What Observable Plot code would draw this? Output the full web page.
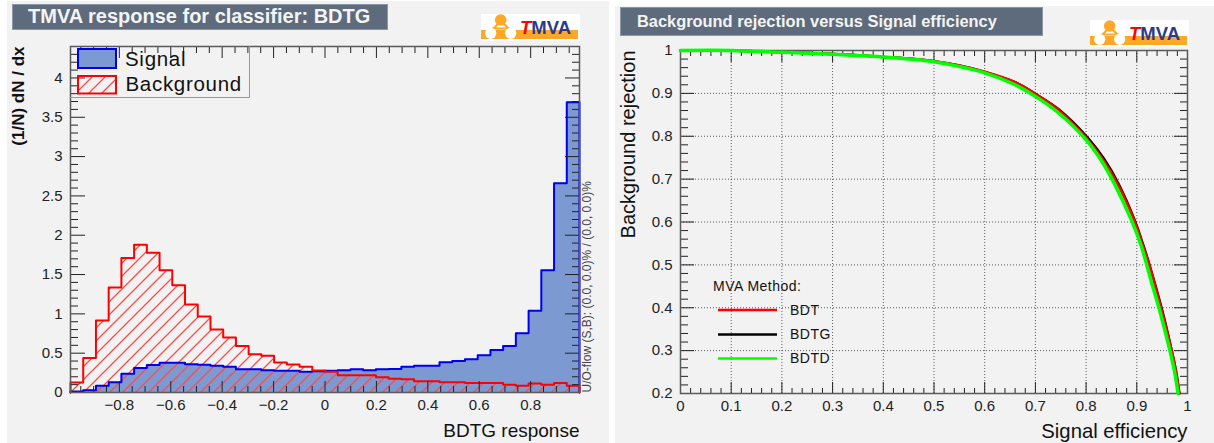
<!DOCTYPE html>
<html><head><meta charset="utf-8">
<script src="https://cdn.jsdelivr.net/npm/d3@7"></script>
<script src="https://cdn.jsdelivr.net/npm/@observablehq/plot@0.6"></script>
<style>
html,body{margin:0;padding:0;background:#fff;width:1214px;height:443px;overflow:hidden;font-family:"Liberation Sans",Arial,sans-serif}
.panel{position:absolute;background:#f2f2f2}
.panel svg{position:absolute;left:0;top:0;overflow:visible;background:transparent}
.title{position:absolute;background:#5d6b7d;color:#f4f4f4;font-weight:bold;box-sizing:border-box;border:1px solid #8b97a5;white-space:nowrap}
.logo{position:absolute}
.over{position:absolute;left:0;top:0;pointer-events:none}
</style></head><body>
<div id="root"></div>
<script>
// ---------- left chart: classifier response ----------
const signalDensity = [0.012,0.03,0.085,0.13,0.237,0.31,0.35,0.377,0.377,0.36,0.352,0.34,0.327,0.297,0.297,0.284,0.276,0.276,0.263,0.27,0.276,0.284,0.297,0.284,0.297,0.30,0.327,0.34,0.34,0.386,0.40,0.424,0.475,0.54,0.59,0.755,1.04,1.556,2.66,3.69];
const backgroundDensity = [0.127,0.44,0.916,1.336,1.71,1.88,1.777,1.556,1.365,1.12,0.967,0.80,0.70,0.59,0.488,0.466,0.38,0.356,0.327,0.28,0.263,0.22,0.22,0.22,0.195,0.174,0.17,0.144,0.144,0.13,0.13,0.12,0.12,0.12,0.098,0.085,0.115,0.098,0.12,0.085];
const responseDomain = [-0.99,0.99];
const densityDomain = [0,4.4];
const responseMajor = [-0.8,-0.6,-0.4,-0.2,0,0.2,0.4,0.6,0.8];
const responseMinor = [-0.95,-0.9,-0.85,-0.75,-0.7,-0.65,-0.55,-0.5,-0.45,-0.35,-0.3,-0.25,-0.15,-0.1,-0.05,0.05,0.1,0.15,0.25,0.3,0.35,0.45,0.5,0.55,0.65,0.7,0.75,0.85,0.9,0.95];
const densityMajor = [0,0.5,1,1.5,2,2.5,3,3.5,4];
const densityMinor = [0.1,0.2,0.3,0.4,0.6,0.7,0.8,0.9,1.1,1.2,1.3,1.4,1.6,1.7,1.8,1.9,2.1,2.2,2.3,2.4,2.6,2.7,2.8,2.9,3.1,3.2,3.3,3.4,3.6,3.7,3.8,3.9,4.1,4.2,4.3];

// ---------- right chart: ROC curves ----------
const effBDT  = [0,0.1,0.2,0.3,0.4,0.5,0.55,0.6,0.66,0.7,0.745,0.8,0.832,0.862,0.895,0.912,0.9246,0.95,0.968,0.977,0.984];
const rejBDT  = [1,1,0.996,0.992,0.985,0.975,0.965,0.9505,0.926,0.899,0.862,0.797,0.748,0.689,0.6035,0.5452,0.50,0.3897,0.3042,0.2537,0.2];
const effBDTG = [0,0.1,0.2,0.3,0.4,0.5,0.55,0.6,0.66,0.7,0.747,0.803,0.835,0.864,0.896,0.913,0.925,0.951,0.968,0.977,0.984];
const rejBDTG = [1,1,0.996,0.992,0.985,0.975,0.965,0.95,0.926,0.899,0.862,0.797,0.748,0.689,0.6035,0.5452,0.50,0.3897,0.3042,0.2537,0.2];
const effBDTD = [0,0.1,0.2,0.3,0.4,0.4615,0.5,0.547,0.6,0.659,0.7,0.744,0.8,0.83,0.856,0.889,0.9085,0.928,0.946,0.9645,0.974,0.9815];
const rejBDTD = [1,1,0.996,0.9915,0.985,0.979,0.9737,0.9635,0.948,0.9207,0.893,0.856,0.7917,0.7434,0.689,0.6055,0.5452,0.4636,0.3897,0.3042,0.2537,0.2];
const effDomain = [0,1];
const rejDomain = [0.2,1];
const effMajor = [0,0.1,0.2,0.3,0.4,0.5,0.6,0.7,0.8,0.9,1];
const rejMajor = [0.2,0.3,0.4,0.5,0.6,0.7,0.8,0.9,1];
const effMinor = [0.02,0.04,0.06,0.08,0.12,0.14,0.16,0.18,0.22,0.24,0.26,0.28,0.32,0.34,0.36,0.38,0.42,0.44,0.46,0.48,0.52,0.54,0.56,0.58,0.62,0.64,0.66,0.68,0.72,0.74,0.76,0.78,0.82,0.84,0.86,0.88,0.92,0.94,0.96,0.98];
const rejMinor = [0.22,0.24,0.26,0.28,0.32,0.34,0.36,0.38,0.42,0.44,0.46,0.48,0.52,0.54,0.56,0.58,0.62,0.64,0.66,0.68,0.72,0.74,0.76,0.78,0.82,0.84,0.86,0.88,0.92,0.94,0.96,0.98];

const FONT = '"Liberation Sans",Arial,sans-serif';
const C = {blue:"#0000f0",fill:"#7d99d1",red:"#ff0000",frame:"#5a5a5a",tick:"#222"};
const HATCH = `<path d="M-2,2L2,-2M0,13L13,0M11,15L15,11" stroke="#ff4a4a" stroke-width="1.3" fill="none"/>`;

// one histogram row per bin edge, closed at both ends so the outline returns to zero
const binWidth = (responseDomain[1]-responseDomain[0])/signalDensity.length;
function histRows(vals){
  const rows=[{x:responseDomain[0],y:0}];
  vals.forEach((v,i)=>rows.push({x:responseDomain[0]+i*binWidth,y:v}));
  rows.push({x:responseDomain[1],y:0});
  return rows;
}

function insideTicks(cfg){
  const {xMajor,xMinor,yMajor,yMinor,xLen,xMinLen,yLen,yMinLen}=cfg;
  const s={stroke:C.tick,strokeWidth:1,text:null,label:null};
  return [
    Plot.axisX(xMajor,{...s,anchor:"bottom",tickSize:-xLen}),
    Plot.axisX(xMinor,{...s,anchor:"bottom",tickSize:-xMinLen}),
    Plot.axisX(xMajor,{...s,anchor:"top",tickSize:-xLen}),
    Plot.axisX(xMinor,{...s,anchor:"top",tickSize:-xMinLen}),
    Plot.axisY(yMajor,{...s,anchor:"left",tickSize:-yLen}),
    Plot.axisY(yMinor,{...s,anchor:"left",tickSize:-yMinLen}),
    Plot.axisY(yMajor,{...s,anchor:"right",tickSize:-yLen}),
    Plot.axisY(yMinor,{...s,anchor:"right",tickSize:-yMinLen})
  ];
}

const sigRows=histRows(signalDensity), bkgRows=histRows(backgroundDensity);

const left = Plot.plot({
  width:602,height:442,marginLeft:63,marginRight:30,marginTop:45,marginBottom:51,
  style:{fontFamily:FONT,background:"transparent",overflow:"visible"},
  x:{domain:responseDomain},y:{domain:densityDomain},
  marks:[
    Plot.areaY(sigRows,{x:"x",y1:0,y2:"y",curve:"step-after",fill:C.fill}),
    Plot.areaY(bkgRows,{x:"x",y1:0,y2:"y",curve:"step-after",fill:"url(#hatchL)"}),
    Plot.line(sigRows,{x:"x",y:"y",curve:"step-after",stroke:C.blue,strokeWidth:2}),
    Plot.line(bkgRows,{x:"x",y:"y",curve:"step-after",stroke:C.red,strokeWidth:2}),
    ...insideTicks({xMajor:responseMajor,xMinor:responseMinor,yMajor:densityMajor,yMinor:densityMinor,xLen:11,xMinLen:6,yLen:15,yMinLen:8}),
    Plot.axisX(responseMajor,{anchor:"bottom",tickSize:0,tickPadding:7,fontSize:15,fill:C.tick,label:null,tickFormat:d3.format("~g")}),
    Plot.axisY(densityMajor,{anchor:"left",tickSize:0,tickPadding:8,fontSize:15,fill:C.tick,label:null,tickFormat:d3.format("~g")}),
    Plot.frame({stroke:C.frame,strokeWidth:1.5}),
    Plot.text(["BDTG response"],{frameAnchor:"bottom-right",textAnchor:"end",dy:44,fontSize:19,fill:"#111"}),
    Plot.text(["(1/N) dN / dx"],{frameAnchor:"top-left",rotate:-90,textAnchor:"end",dx:-59,dy:0,fontSize:17,fill:"#111",fontWeight:"bold"}),
    Plot.text(["U/O-flow (S,B): (0.0, 0.0)% / (0.0, 0.0)%"],{frameAnchor:"bottom-right",rotate:-90,textAnchor:"start",dx:11,fontSize:12,fill:"#444"})
  ]
});

const rocLine=(xs,ys,stroke,strokeWidth)=>Plot.line(xs.map((x,i)=>({x,y:ys[i]})),{x:"x",y:"y",stroke,strokeWidth,curve:"catmull-rom"});
const right = Plot.plot({
  width:599,height:437,marginLeft:65,marginRight:27,marginTop:44,marginBottom:50,
  style:{fontFamily:FONT,background:"transparent",overflow:"visible"},
  x:{domain:effDomain},y:{domain:rejDomain},
  marks:[
    Plot.gridX(effMajor.slice(1,-1),{stroke:"#333",strokeOpacity:0.8,strokeDasharray:"1,2"}),
    Plot.gridY(rejMajor.slice(1,-1),{stroke:"#333",strokeOpacity:0.8,strokeDasharray:"1,2"}),
    ...insideTicks({xMajor:effMajor,xMinor:effMinor,yMajor:rejMajor,yMinor:rejMinor,xLen:11,xMinLen:5,yLen:14,yMinLen:8}),
    Plot.axisX(effMajor,{anchor:"bottom",tickSize:0,tickPadding:7,fontSize:15,fill:C.tick,label:null,tickFormat:d3.format("~g")}),
    Plot.axisY(rejMajor,{anchor:"left",tickSize:0,tickPadding:8,fontSize:15,fill:C.tick,label:null,tickFormat:d3.format("~g")}),
    Plot.frame({stroke:C.frame,strokeWidth:1.5}),
    rocLine(effBDTG,rejBDTG,"#000",2.5),
    rocLine(effBDT,rejBDT,C.red,2.5),
    rocLine(effBDTD,rejBDTD,"#00ff00",3.5),
    Plot.text(["Signal efficiency"],{frameAnchor:"bottom-right",textAnchor:"end",dy:44,fontSize:20.3,fill:"#111"}),
    Plot.text(["Background rejection"],{frameAnchor:"top-left",rotate:-90,textAnchor:"end",dx:-60,fontSize:20,fill:"#111"})
  ]
});

function hatch(svg,id){
  const ns="http://www.w3.org/2000/svg";
  const defs=document.createElementNS(ns,"defs");
  defs.innerHTML=`<pattern id="${id}" patternUnits="userSpaceOnUse" width="13" height="13">${HATCH}</pattern>`;
  svg.insertBefore(defs,svg.firstChild);
}
hatch(left,"hatchL");

function logo(x,y){
  return `<svg class="logo" style="left:${x}px;top:${y}px" width="99" height="27" viewBox="0 0 99 27">
  <rect width="99" height="27" fill="#fff"/>
  <rect x="0" y="16" width="97" height="9" fill="#ffa726"/>
  <path d="M11,16L18,9M29,16L22,9M11,14.5H29" stroke="#ffa726" stroke-width="2" fill="none"/>
  <circle cx="19.7" cy="6" r="5.8" fill="#ffa726"/>
  <circle cx="9.7" cy="19.3" r="5.6" fill="#fff"/>
  <circle cx="29.7" cy="19.3" r="5.6" fill="#fff"/>
  <text x="39" y="19.5" font-family="Liberation Sans" font-size="18.5" font-weight="bold" fill="#2d3a8c"><tspan fill="#f00" font-style="italic">T</tspan>MVA</text></svg>`;
}

const root=document.getElementById("root");
root.innerHTML=`
<div class="panel" id="pl" style="left:7px;top:1px;width:602px;height:442px"></div>
<div class="panel" id="pr" style="left:615px;top:6px;width:599px;height:437px"></div>`;
const pl=document.getElementById("pl"), pr=document.getElementById("pr");
pl.appendChild(left); pr.appendChild(right);

const overlay=document.createElement("div");
overlay.innerHTML=`
<div class="title" style="left:12px;top:4px;width:376px;height:26px;padding-left:15px;font-size:20px;line-height:23px">TMVA response for classifier: BDTG</div>
<div class="title" style="left:620px;top:7px;width:423px;height:29px;padding-left:16px;font-size:16.4px;line-height:27px">Background rejection versus Signal efficiency</div>
${logo(481,14)}${logo(1090,20)}
<div style="position:absolute;left:70px;top:46px;width:180px;height:52px;box-sizing:border-box;border-right:1px solid #8b9bab;border-bottom:1px solid #8b9bab"></div>
<svg class="over" width="1214" height="443">
  <defs><pattern id="hatchS" patternUnits="userSpaceOnUse" width="13" height="13">${HATCH}</pattern></defs>
  <rect x="78" y="49" width="38" height="19" fill="${C.fill}" stroke="${C.blue}" stroke-width="2"/>
  <rect x="78" y="76" width="38" height="17.5" fill="url(#hatchS)" stroke="${C.red}" stroke-width="2"/>
  <text x="125" y="66" font-size="20.5" letter-spacing="0.7" fill="#111" font-family="Liberation Sans">Signal</text>
  <text x="125.5" y="91" font-size="20.5" letter-spacing="0.7" fill="#111" font-family="Liberation Sans">Background</text>
  <text x="713" y="291" font-size="14" letter-spacing="0.5" fill="#111" font-family="Liberation Sans">MVA Method:</text>
  <line x1="718" x2="777" y1="310" y2="310" stroke="#f00" stroke-width="2.5"/>
  <line x1="718" x2="777" y1="334.5" y2="334.5" stroke="#000" stroke-width="2.5"/>
  <line x1="718" x2="777" y1="358.5" y2="358.5" stroke="#0f0" stroke-width="2.5"/>
  <text x="790" y="315" font-size="14" letter-spacing="0.5" fill="#111" font-family="Liberation Sans">BDT</text>
  <text x="790" y="339" font-size="14" letter-spacing="0.5" fill="#111" font-family="Liberation Sans">BDTG</text>
  <text x="790" y="363" font-size="14" letter-spacing="0.5" fill="#111" font-family="Liberation Sans">BDTD</text>
</svg>`;
root.appendChild(overlay);
</script>
</body></html>
